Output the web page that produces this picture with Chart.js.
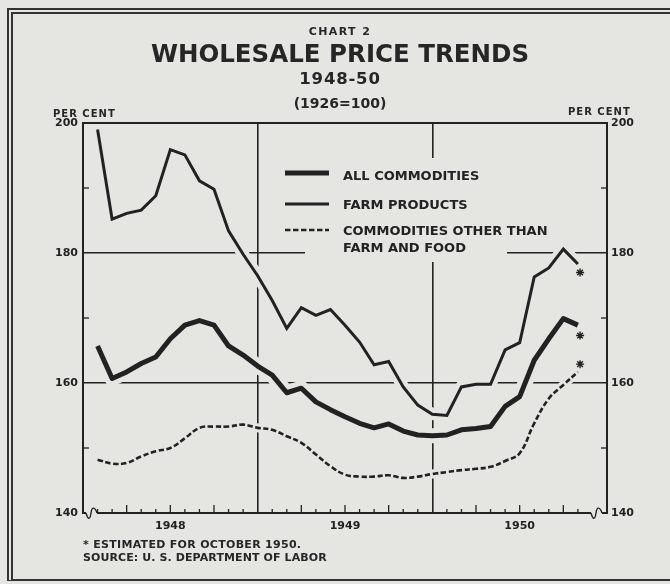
<!DOCTYPE html>
<html>
<head>
<meta charset="utf-8">
<script src="https://cdn.jsdelivr.net/npm/chart.js@4.4.1/dist/chart.umd.min.js"></script>
<style>
  html, body { margin: 0; padding: 0; }
  body {
    width: 670px; height: 584px; position: relative; overflow: hidden;
    background: #e5e5e1; color: #262626;
    font-family: "DejaVu Sans", sans-serif; font-weight: bold;
  }
  #frame {
    position: absolute; left: 7px; top: 8px; width: 657px; height: 565px;
    border-left: 6px double #333; border-top: 6px double #333; border-bottom: 2px solid #333;
  }
  canvas { position: absolute; left: 0; top: 0; }
  .t { position: absolute; white-space: nowrap; line-height: 1; }
  .c { left: 0; width: 680px; text-align: center; }
</style>
</head>
<body>
<div id="frame"></div>
<canvas id="priceChart" width="670" height="584"></canvas>

<div class="t c" style="top:26px; font-size:11px; letter-spacing:1.4px;">CHART 2</div>
<div class="t c" style="top:42px; font-size:24.5px;">WHOLESALE PRICE TRENDS</div>
<div class="t c" style="top:71px; font-size:16.5px; letter-spacing:0.8px;">1948-50</div>
<div class="t c" style="top:96px; font-size:14px;">(1926=100)</div>
<div class="t" style="left:53px; top:109px; font-size:10px; letter-spacing:1px;">PER CENT</div>
<div class="t" style="left:568px; top:107px; font-size:10px; letter-spacing:1px;">PER CENT</div>
<div class="t" style="left:83px; top:539px; font-size:11px; letter-spacing:0.3px;">* ESTIMATED FOR OCTOBER 1950.</div>
<div class="t" style="left:83px; top:552px; font-size:11px; letter-spacing:0.1px;">SOURCE: U. S. DEPARTMENT OF LABOR</div>

<script>
'use strict';

//data, monthly index numbers (1926 = 100)
const months = [
  'Jan 1948', 'Feb 1948', 'Mar 1948', 'Apr 1948', 'May 1948', 'Jun 1948',
  'Jul 1948', 'Aug 1948', 'Sep 1948', 'Oct 1948', 'Nov 1948', 'Dec 1948',
  'Jan 1949', 'Feb 1949', 'Mar 1949', 'Apr 1949', 'May 1949', 'Jun 1949',
  'Jul 1949', 'Aug 1949', 'Sep 1949', 'Oct 1949', 'Nov 1949', 'Dec 1949',
  'Jan 1950', 'Feb 1950', 'Mar 1950', 'Apr 1950', 'May 1950', 'Jun 1950',
  'Jul 1950', 'Aug 1950', 'Sep 1950', 'Oct 1950'
];
const allCommodities = [
  165.7, 160.7, 161.7, 163.0, 164.0, 166.8, 168.9, 169.6, 168.9, 165.7, 164.3, 162.6,
  161.2, 158.5, 159.2, 157.1, 155.9, 154.8, 153.8, 153.1, 153.7, 152.6, 152.0, 151.9,
  152.0, 152.8, 153.0, 153.3, 156.4, 157.9, 163.5, 166.8, 169.9, 168.9
];
const farmProducts = [
  199.0, 185.2, 186.1, 186.6, 188.8, 195.9, 195.1, 191.1, 189.8, 183.4, 179.8, 176.5,
  172.7, 168.4, 171.6, 170.4, 171.3, 168.9, 166.3, 162.8, 163.3, 159.4, 156.6, 155.2,
  155.0, 159.4, 159.8, 159.8, 165.1, 166.2, 176.3, 177.7, 180.6, 178.3
];
const otherThanFarmFood = [
  148.2, 147.6, 147.7, 148.7, 149.5, 150.0, 151.5, 153.1, 153.3, 153.3, 153.6, 153.1,
  152.8, 151.8, 150.8, 149.0, 147.2, 145.9, 145.6, 145.6, 145.8, 145.4, 145.6, 146.0,
  146.3, 146.6, 146.8, 147.1, 148.0, 149.2, 153.8, 157.6, 159.7, 161.7
];
// asterisks "estimated for october 1950" (farm, all, other)
const estimateMarks = [177.0, 167.3, 162.9];
const years = ['1948', '1949', '1950'];
const yTicks = [140, 160, 180, 200];
const legendLabels = ['ALL COMMODITIES', 'FARM PRODUCTS', 'COMMODITIES OTHER THAN', 'FARM AND FOOD'];

//----------------

const PAPER = '#e5e5e1';
const INK = '#222';
const FONT = '"DejaVu Sans", sans-serif';

const pts = arr => arr.map((v, i) => ({ x: i, y: v }));
const lastIdx = months.length - 1;
const yearCenter = {}; // year label sits in the middle of its Dec..Dec span
years.forEach((y, k) => { yearCenter[12 * k + 5] = y; });
const gridX = [11, 23]; // december lines
const gridY = [yTicks[1], yTicks[2]];

const halo = (arr, w) => ({
  data: pts(arr), borderColor: PAPER, borderWidth: w, pointRadius: 0, order: 10, tension: 0
});

const decorations = {
  id: 'decorations',
  beforeDatasetsDraw(chart) {
    // blank box behind the legend, interrupts the grid lines
    const ctx = chart.ctx;
    ctx.save();
    ctx.fillStyle = PAPER;
    ctx.fillRect(305, 158, 202, 104);
    ctx.restore();
  },
  afterDatasetsDraw(chart) {
    const ctx = chart.ctx;
    const a = chart.chartArea;
    const xs = chart.scales.x, ys = chart.scales.y;
    ctx.save();
    ctx.strokeStyle = INK;
    ctx.lineCap = 'butt';

    // month ticks
    ctx.lineWidth = 1.3;
    for (let i = 0; i <= lastIdx; i++) {
      if (gridX.includes(i)) continue;
      const x = xs.getPixelForValue(i);
      const len = (i % 3 === 2) ? 8 : 4;
      ctx.beginPath(); ctx.moveTo(x, a.bottom); ctx.lineTo(x, a.bottom - len); ctx.stroke();
    }
    // in-between value ticks
    [150, 170, 190].forEach(v => {
      const y = ys.getPixelForValue(v);
      ctx.beginPath(); ctx.moveTo(a.left, y); ctx.lineTo(a.left + 6, y); ctx.stroke();
      ctx.beginPath(); ctx.moveTo(a.right, y); ctx.lineTo(a.right - 6, y); ctx.stroke();
    });

    // frame
    ctx.lineWidth = 2;
    ctx.strokeRect(a.left, a.top, a.right - a.left, a.bottom - a.top);

    // axis breaks
    const squiggle = (x0) => {
      ctx.fillStyle = PAPER;
      ctx.fillRect(x0, a.bottom - 2, 11, 4);
      ctx.lineWidth = 1.4;
      ctx.beginPath();
      ctx.moveTo(x0, a.bottom);
      ctx.bezierCurveTo(x0 + 2, a.bottom + 7, x0 + 4, a.bottom + 7, x0 + 5, a.bottom);
      ctx.bezierCurveTo(x0 + 6, a.bottom - 7, x0 + 9, a.bottom - 6, x0 + 11, a.bottom);
      ctx.stroke();
    };
    squiggle(a.left + 3);
    squiggle(xs.getPixelForValue(lastIdx + 0.9));

    // legend
    const lx0 = 285, lx1 = 329;
    ctx.lineWidth = 5;
    ctx.beginPath(); ctx.moveTo(lx0, 173); ctx.lineTo(lx1, 173); ctx.stroke();
    ctx.lineWidth = 3;
    ctx.beginPath(); ctx.moveTo(lx0, 204); ctx.lineTo(lx1, 204); ctx.stroke();
    ctx.lineWidth = 2.6;
    ctx.setLineDash([5.5, 2.5]);
    ctx.beginPath(); ctx.moveTo(lx0, 230); ctx.lineTo(lx1, 230); ctx.stroke();
    ctx.setLineDash([]);

    ctx.fillStyle = INK;
    ctx.font = 'bold 13px ' + FONT;
    ctx.textBaseline = 'alphabetic';
    const baselines = [180, 209, 235, 252];
    legendLabels.forEach((t, i) => ctx.fillText(t, 343, baselines[i]));
    ctx.restore();
  }
};

const yAxis = (pos, pad) => ({
  type: 'linear',
  position: pos,
  min: yTicks[0],
  max: yTicks[yTicks.length - 1],
  border: { display: false },
  grid: {
    display: pos === 'left',
    drawTicks: false,
    lineWidth: 1.6,
    color: c => gridY.includes(c.tick.value) ? INK : 'transparent'
  },
  ticks: {
    stepSize: 10,
    padding: pad,
    color: INK,
    font: { family: FONT, size: 11, weight: 'bold' },
    callback: v => yTicks.includes(v) ? String(v) : ''
  },
  afterFit: s => { s.width = pos === 'left' ? 83 : 63; }
});

new Chart(document.getElementById('priceChart'), {
  type: 'line',
  data: {
    datasets: [
      { label: 'All commodities', data: pts(allCommodities), borderColor: INK, borderWidth: 5,
        pointRadius: 0, tension: 0, order: 1, borderJoinStyle: 'round' },
      { label: 'Farm products', data: pts(farmProducts), borderColor: INK, borderWidth: 3,
        pointRadius: 0, tension: 0, order: 1 },
      { label: 'Commodities other than farm and food', data: pts(otherThanFarmFood), borderColor: INK,
        borderWidth: 2.6, borderDash: [5.5, 2.5], pointRadius: 0, tension: 0.4, order: 1 },
      { label: 'Estimated', data: estimateMarks.map(v => ({ x: lastIdx + 0.15, y: v })), showLine: false,
        pointStyle: 'star', pointRadius: 4, borderColor: INK, borderWidth: 1.4, order: 0 },
      halo(allCommodities, 15),
      halo(farmProducts, 12),
      Object.assign(halo(otherThanFarmFood, 9), { tension: 0.4 })
    ]
  },
  options: {
    responsive: false,
    animation: false,
    events: [],
    layout: { padding: { top: 123, left: 0, right: 0, bottom: 0 } },
    plugins: { legend: { display: false }, tooltip: { enabled: false } },
    scales: {
      x: {
        type: 'linear',
        min: -1,
        max: lastIdx + 2,
        border: { display: false },
        afterBuildTicks: s => { s.ticks = []; for (let i = -1; i <= lastIdx + 2; i++) s.ticks.push({ value: i }); },
        grid: {
          drawTicks: false,
          lineWidth: 1.6,
          color: c => gridX.includes(c.tick.value) ? INK : 'transparent'
        },
        ticks: {
          autoSkip: false,
          maxRotation: 0,
          padding: 7,
          color: INK,
          font: { family: FONT, size: 11, weight: 'bold' },
          callback: v => yearCenter[v] || ''
        },
        afterFit: s => { s.height = 71; }
      },
      y: yAxis('left', 5),
      y2: yAxis('right', 4)
    }
  },
  plugins: [decorations]
});
</script>
</body>
</html>
